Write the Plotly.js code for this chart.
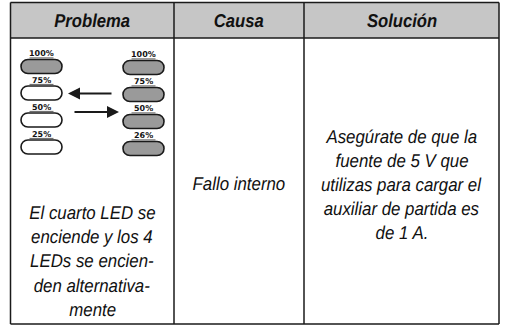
<!DOCTYPE html>
<html><head><meta charset="utf-8">
<script src="https://cdn.plot.ly/plotly-3.0.0.min.js"></script>
<style>html,body{margin:0;padding:0;background:#fff}#c{width:505px;height:326px}text{text-rendering:geometricPrecision}</style></head>
<body><div id="c"></div>
<script>
const headers = ['Problema', 'Causa', 'Solución'];
const problemLines = ['El cuarto LED se', 'enciende y los 4', 'LEDs se encien-', 'den alternativa-', 'mente'];
const causeLines = ['Fallo interno'];
const solutionLines = ['Asegúrate de que la', 'fuente de 5 V que', 'utilizas para cargar el', 'auxiliar de partida es', 'de 1 A.'];
const leftLabels = ['100%', '75%', '50%', '25%'];
const rightLabels = ['100%', '75%', '50%', '26%'];
const leftLit = [true, false, false, false];
const rightLit = [true, true, true, true];
const leftY = [66.5, 93, 120, 147];
const rightY = [67.5, 94.5, 121.5, 148.5];
const columnEdges = [10.5, 174, 304, 499];
const colors = {line: '#1a1a1a', head: '#c6c6c6', lit: '#9a9a9a', off: '#ffffff', text: '#111111'};
const F = '"Liberation Sans", Arial, sans-serif';

const shapes = [];
const annotations = [];
const topEdge = 2.5, headBottom = 38, bottomEdge = 324;

function text(x, y, t, size, opts) {
  annotations.push(Object.assign({x, y, text: t, xref: 'x', yref: 'y', showarrow: false,
    xanchor: 'center', yanchor: 'middle', font: {family: F, size, color: colors.text}}, opts || {}));
}
function line(x0, y0, x1, y1, w) {
  shapes.push({type: 'line', x0, y0, x1, y1, xref: 'x', yref: 'y', line: {color: colors.line, width: w}});
}
shapes.push({type: 'rect', xref: 'x', yref: 'y', x0: columnEdges[0], x1: columnEdges[3], y0: topEdge, y1: headBottom, fillcolor: colors.head, line: {width: 0}, layer: 'below'});
line(columnEdges[0], topEdge, columnEdges[3], topEdge, 1.6);
line(columnEdges[0], headBottom, columnEdges[3], headBottom, 1.4);
line(columnEdges[0], bottomEdge, columnEdges[3], bottomEdge, 1.6);
columnEdges.forEach(x => line(x, topEdge, x, bottomEdge, 1.5));

headers.forEach((h, i) => text((columnEdges[i] + columnEdges[i + 1]) / 2, 20.5, '<b><i>' + h + '</i></b>', 18.5));

function lines(arr, cx, y0, step) {
  arr.forEach((t, i) => text(cx, y0 + i * step, '<i>' + t + '</i>', 18.5));
}
lines(problemLines, 92, 212.5, 24.2);
lines(causeLines, 239, 183, 0);
lines(solutionLines, 401.5, 136, 24);

function pill(cx, cy, lit) {
  const hw = 20.5, hh = 7, k = 3;
  const l = cx - hw, rr = cx + hw, t = cy - hh, b = cy + hh;
  shapes.push({type: 'path', xref: 'x', yref: 'y',
    path: `M ${l + 7} ${t} L ${rr - 7} ${t} C ${rr - k} ${t} ${rr} ${cy - 4} ${rr} ${cy} C ${rr} ${cy + 4} ${rr - k} ${b} ${rr - 7} ${b} L ${l + 7} ${b} C ${l + k} ${b} ${l} ${cy + 4} ${l} ${cy} C ${l} ${cy - 4} ${l + k} ${t} ${l + 7} ${t} Z`,
    fillcolor: lit ? colors.lit : colors.off, line: {color: colors.line, width: 1.6}});
}
function gauge(cx, ys, labels, lit) {
  ys.forEach((y, i) => {
    pill(cx, y, lit[i]);
    text(cx - 0.5, y - 13, '<b>' + labels[i] + '</b>', 8, {font: {family: 'DejaVu Sans, sans-serif', size: 8, color: colors.text}});
    line(cx - 12, y - 8.6, cx + 12, y - 8.6, 0.7);
  });
}
gauge(41.5, leftY, leftLabels, leftLit);
gauge(143.5, rightY, rightLabels, rightLit);

function arrow(x0, x1, y) {
  annotations.push({x: x1, y, ax: x0, ay: y, xref: 'x', yref: 'y', axref: 'x', ayref: 'y', text: '',
    showarrow: true, arrowhead: 2, arrowsize: 1.2, arrowwidth: 2, arrowcolor: colors.line});
}
arrow(113, 68, 93.5);
arrow(73, 119, 112);

Plotly.newPlot('c', [{type: 'scatter', x: [0], y: [0], mode: 'none', hoverinfo: 'skip'}], {
  width: 505, height: 326,
  margin: {l: 0, r: 0, t: 0, b: 0},
  paper_bgcolor: '#fff', plot_bgcolor: '#fff',
  showlegend: false,
  xaxis: {range: [0, 505], visible: false, fixedrange: true},
  yaxis: {range: [326, 0], visible: false, fixedrange: true},
  shapes, annotations
}, {displayModeBar: false, staticPlot: true}).then(gd => {
  // Narrow the glyphs: the reference face is a condensed grotesque.
  gd.querySelectorAll('text.annotation-text').forEach(t => {
    const s = t.textContent;
    if (!s || /%$/.test(s)) return;
    const sx = headers.includes(s) ? 0.9 : 0.91;
    const box = t.getBBox();
    const cx = box.x + box.width / 2;
    const prev = t.getAttribute('transform') || '';
    t.setAttribute('transform', `${prev} translate(${cx} 0) scale(${sx} 1) translate(${-cx} 0)`);
  });
});
</script></body></html>
